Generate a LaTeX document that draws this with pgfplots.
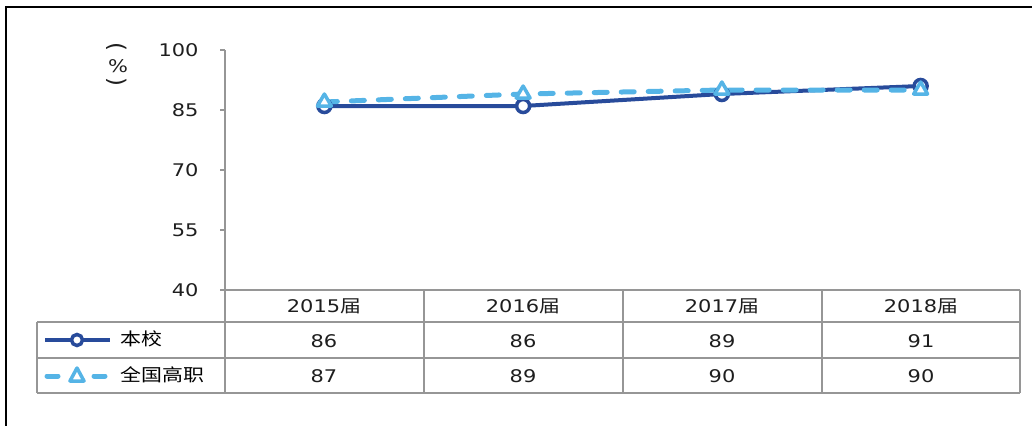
\documentclass[border=0pt]{standalone}
\usepackage{pgfplots}
\pgfplotsset{compat=1.18}
\usepackage{fontspec}
\setmainfont{DejaVu Sans}[FakeStretch=1.2]
\newfontfamily\cjk{Noto Sans CJK SC}[FakeStretch=1.2]
\newfontfamily\plainsans{DejaVu Sans}
\definecolor{darkblue}{RGB}{40,75,155}
\definecolor{lightblue}{RGB}{85,180,230}
\definecolor{gridgray}{RGB}{150,150,150}
\definecolor{txt}{RGB}{30,30,30}
\newcommand{\fs}{\fontsize{17.5}{21}\selectfont}
\tikzset{
  schoolline/.style={darkblue, line width=4bp},
  nationline/.style={lightblue, line width=5bp, line cap=round, dash pattern=on 13bp off 14bp},
}
\begin{document}
\begin{tikzpicture}[x=1bp,y=1bp,font=\fs\color{txt}]
\path[use as bounding box] (0,0) rectangle (1032,425);
% outer frame (top and left only)
\draw[black, line width=2.5bp] (6,-5) -- (6,418) -- (1040,418);

\begin{axis}[
  at={(225bp,135bp)}, anchor=south west,
  scale only axis, width=795bp, height=240bp,
  xmin=0, xmax=4, ymin=40, ymax=100,
  axis x line=none, axis y line*=left,
  y axis line style={gridgray, line width=1.2bp, -},
  ytick={40,55,70,85,100}, xtick=\empty,
  tick align=outside, major tick length=5bp,
  ytick style={gridgray, line width=1.2bp},
  /pgf/number format/assume math mode=true,
  yticklabel style={font=\fs\color{txt}, xshift=-18bp},
  clip=false,
]
\addplot[schoolline, mark=*, mark size=6.5bp,
  mark options={solid, fill=white, draw=darkblue, line width=3.5bp}]
  coordinates {(0.5,86) (1.5,86) (2.5,89) (3.5,91)};
\addplot[nationline, mark=triangle*, mark size=8bp,
  mark options={solid, fill=white, draw=lightblue, line width=3.5bp, line join=round}]
  coordinates {(0.5,87) (1.5,89) (2.5,90) (3.5,90)};
\end{axis}

% y label (vertical text: rotated brackets round an upright %)
\node[inner sep=0] at (117,377) {\fontsize{23}{23}\selectfont\plainsans\rotatebox[origin=c]{-90}{(}};
\node[inner sep=0] at (118,359) {\%};
\node[inner sep=0] at (117,342) {\fontsize{23}{23}\selectfont\plainsans\rotatebox[origin=c]{-90}{)}};

% data table grid
\begin{scope}[gridgray, line width=1.5bp]
\draw (225,135) -- (1020,135);
\draw (37,103) -- (1020,103);
\draw (37,67) -- (1020,67);
\draw (37,32) -- (1020,32);
\draw (37,103) -- (37,32);
\foreach \x in {225,424,623,822,1020} \draw (\x,135) -- (\x,32);
\end{scope}

% header
\foreach \x/\y in {324/2015,523/2016,722/2017,921/2018}
  \node at (\x,119) {\y{\cjk 届}};
% values
\foreach \x/\v in {324/86,523/86,722/89,921/91}
  \node at (\x,84) {\v};
\foreach \x/\v in {324/87,523/89,722/90,921/90}
  \node at (\x,49) {\v};

% legend keys
\draw[schoolline] (45,85) -- (110,85);
\draw[darkblue, fill=white, line width=3.5bp] (77,85) circle (5.5bp);
\draw[lightblue, line width=5bp, line cap=round] (47,49) -- (58,49) (94,49) -- (105,49);
\draw[lightblue, fill=white, line width=3.5bp, line join=round] (77,57) -- (70,44) -- (84,44) -- cycle;
\node[anchor=west, font=\fs\cjk] at (117,86) {本校};
\node[anchor=west, font=\fs\cjk] at (117,50) {全国高职};
\end{tikzpicture}
\end{document}
